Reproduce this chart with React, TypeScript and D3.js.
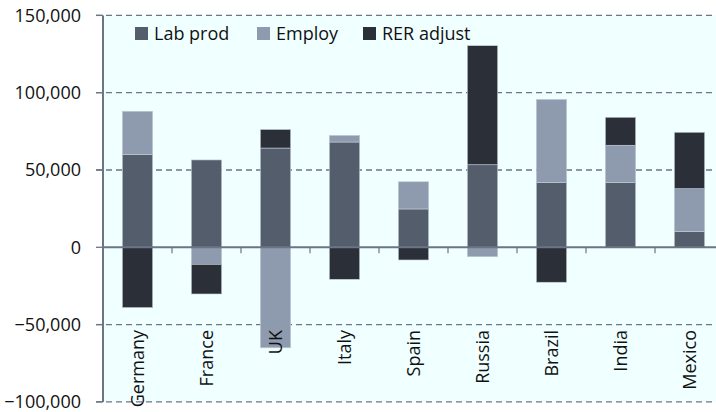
import React from "react";
import * as d3 from "d3";

const categories = ["Germany", "France", "UK", "Italy", "Spain", "Russia", "Brazil", "India", "Mexico"];
const labProd = [60000, 56500, 64200, 68100, 24800, 53400, 42000, 42000, 10300];
const employ = [28000, -11000, -65000, 4300, 17600, -6100, 53700, 24000, 27600];
const rerAdjust = [-39000, -19200, 12000, -20700, -8200, 77000, -22600, 18100, 36500];
const seriesNames = ["Lab prod", "Employ", "RER adjust"];
const yTicks = [150000, 100000, 50000, 0, -50000, -100000];

const colors = ["#545d6b", "#8e9aae", "#2b2f37"];

const W = 716;
const H = 412;
const left = 103;
const right = 724;
const top = 15.4;
const bottom = 401.9;

export default function App() {
  const rows = categories.map((c, i) => ({
    cat: c,
    "Lab prod": labProd[i],
    Employ: employ[i],
    "RER adjust": rerAdjust[i],
  }));
  const stack = d3.stack<any>().keys(seriesNames).offset(d3.stackOffsetDiverging);
  const layers = stack(rows);

  const x = d3.scaleBand().domain(categories).range([left, right]).padding(0);
  const y = d3.scaleLinear().domain([-100000, 150000]).range([bottom, top]);
  const step = x.step();
  const bw = step * 0.44;
  const fmt = d3.format(",");
  const axisColor = "#6b7585";
  const font = "'Open Sans', sans-serif";

  return (
    <svg width={W} height={H} style={{ position: "absolute", left: 0, top: 0 }}>
      <rect x={left} y={top} width={W - left} height={bottom - top} fill="#f0ffff" />
      {yTicks.map((t) => (
        <g key={t}>
          {t !== 0 && (
            <line x1={96} x2={W} y1={y(t)} y2={y(t)} stroke={axisColor} strokeWidth={1.3} strokeDasharray="6,4" />
          )}
          <line x1={96} x2={left} y1={y(t)} y2={y(t)} stroke={axisColor} strokeWidth={1.3} />
          <text x={81} y={y(t)} dy="0.35em" textAnchor="end" fontFamily={font} fontSize={18} fill="#111">
            {fmt(t)}
          </text>
        </g>
      ))}
      {layers.map((layer, si) => (
        <g key={si} fill={colors[si]}>
          {layer.map((d, i) => {
            const y0 = y(d[0]);
            const y1 = y(d[1]);
            return (
              <rect
                key={i}
                x={(x(categories[i]) as number) + (step - bw) / 2}
                y={Math.min(y0, y1)}
                width={bw}
                height={Math.abs(y1 - y0)}
                stroke="#c3ccd8"
                strokeWidth={0.6}
              />
            );
          })}
        </g>
      ))}
      <line x1={left} x2={W} y1={y(0)} y2={y(0)} stroke={axisColor} strokeWidth={2} />
      {categories.slice(1).map((c) => (
        <line key={c} x1={x(c) as number} x2={x(c) as number} y1={y(0)} y2={y(0) + 6} stroke={axisColor} strokeWidth={1.2} />
      ))}
      <line x1={left} x2={left} y1={top} y2={bottom} stroke={axisColor} strokeWidth={2} />
      {categories.map((c) => {
        const cx = (x(c) as number) + step / 2;
        return (
          <text
            key={c}
            transform={`translate(${cx + 6},330) rotate(-90)`}
            textAnchor="end"
            fontFamily={font}
            fontSize={18}
            fill="#111"
          >
            {c}
          </text>
        );
      })}
      {seriesNames.map((s, i) => {
        const lx = [135, 257, 363][i];
        return (
          <g key={s}>
            <rect x={lx} y={27} width={13} height={13} fill={colors[i]} />
            <text x={lx + 19} y={40} fontFamily={font} fontSize={18} fill="#111">
              {s}
            </text>
          </g>
        );
      })}
    </svg>
  );
}
